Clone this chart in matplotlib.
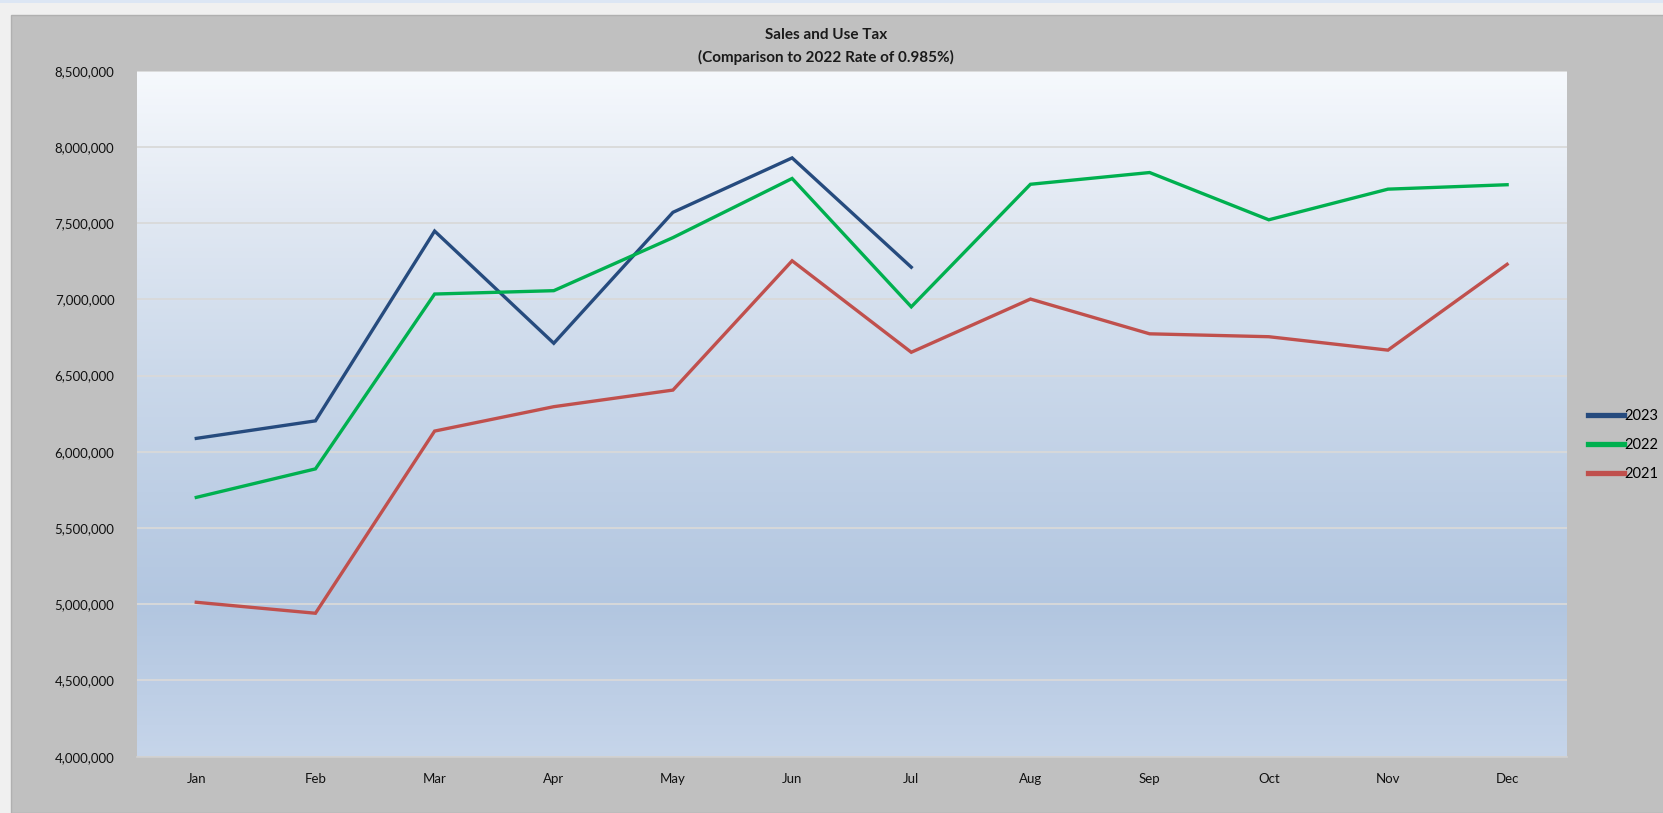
import numpy as np
import matplotlib
matplotlib.use("Agg")
import matplotlib.pyplot as plt
from matplotlib.colors import LinearSegmentedColormap
from matplotlib.patches import Rectangle
from matplotlib.ticker import FuncFormatter, MultipleLocator

months = ["Jan", "Feb", "Mar", "Apr", "May", "Jun", "Jul", "Aug", "Sep", "Oct", "Nov", "Dec"]
sales_2023 = [6088000, 6203000, 7448000, 6712000, 7571000, 7928000, 7211000]
sales_2022 = [5701000, 5888000, 7035000, 7057000, 7405000, 7793000, 6951000,
              7755000, 7832000, 7522000, 7723000, 7752000]
sales_2021 = [5013000, 4941000, 6136000, 6296000, 6405000, 7253000, 6653000,
              7002000, 6774000, 6755000, 6667000, 7230000]
series_names = ["2023", "2022", "2021"]
title = "Sales and Use Tax"
subtitle = "(Comparison to 2022 Rate of 0.985%)"

plt.rcParams['font.family'] = ['Lato', 'DejaVu Sans']

W, H = 1663, 813
fig = plt.figure(figsize=(W / 100, H / 100), dpi=100)
fig.patch.set_facecolor("#f0f0f0")

# outer frame pieces
fig.add_artist(Rectangle((0, 1 - 3 / H), 1, 3 / H, transform=fig.transFigure,
                         facecolor="#dce6f4", edgecolor="none", zorder=0))
fig.add_artist(Rectangle((11 / W, 0), 1, 1 - 15 / H, transform=fig.transFigure,
                         facecolor="#c0c0c0", edgecolor="#b0b0b0", linewidth=1.0, zorder=0))

left, right, top, bottom = 136.7, 1566.7, 70.7, 756.7
ax = fig.add_axes([left / W, 1 - bottom / H, (right - left) / W, (bottom - top) / H])

# gradient background
cmap = LinearSegmentedColormap.from_list(
    "bg", [(0.0, "#c6d5ea"), (0.22, "#b2c6e0"), (0.55, "#cad8ea"),
           (0.8, "#e2e9f3"), (1.0, "#f6f9fd")])
grad = np.linspace(0, 1, 256).reshape(-1, 1)
ax.imshow(grad, aspect="auto", cmap=cmap, origin="lower",
          extent=[0, 1, 0, 1], transform=ax.transAxes, zorder=0)

x = np.arange(len(months))
lw = 2.4
ax.plot(x[:len(sales_2023)], sales_2023, color="#264b7e", lw=lw, zorder=3,
        label=series_names[0], solid_joinstyle="miter")
ax.plot(x, sales_2022, color="#00b04f", lw=lw, zorder=3, label=series_names[1],
        solid_joinstyle="miter")
ax.plot(x, sales_2021, color="#c0504d", lw=lw, zorder=3, label=series_names[2],
        solid_joinstyle="miter")

ax.set_xlim(-0.5, len(months) - 0.5)
ax.set_ylim(4000000, 8500000)
ax.yaxis.set_major_locator(MultipleLocator(500000))
ax.yaxis.set_major_formatter(FuncFormatter(lambda v, p: f"{int(v):,}"))
ax.set_xticks(x)
ax.set_xticklabels(months)
ax.grid(axis="y", color="#d9d9d9", lw=1.3, zorder=1)
for gl in ax.get_ygridlines():
    gl.set_zorder(1)
ax.tick_params(axis="both", length=0, labelsize=9.5, colors="#111111")
ax.tick_params(axis="x", pad=12)
ax.tick_params(axis="y", pad=16)
for s in ax.spines.values():
    s.set_visible(False)
ax.spines["bottom"].set_visible(True)
ax.spines["bottom"].set_color("#d0d0d0")
ax.spines["bottom"].set_linewidth(1.2)

fig.text(826 / W, 1 - 35 / H, title, ha="center", va="center",
         fontsize=11, fontweight="bold", color="#1a1a1a")
fig.text(826 / W, 1 - 57 / H, subtitle, ha="center", va="center",
         fontsize=11, fontweight="bold", color="#1a1a1a")

leg = fig.legend(loc="center left", bbox_to_anchor=(1588 / W, 1 - 445 / H),
                 frameon=False, fontsize=10.5, handlelength=2.5, handletextpad=0.0,
                 labelspacing=1.05, borderaxespad=0, borderpad=0)
for line in leg.get_lines():
    line.set_linewidth(3.8)

fig.savefig("out.png", dpi=100, facecolor=fig.get_facecolor())
